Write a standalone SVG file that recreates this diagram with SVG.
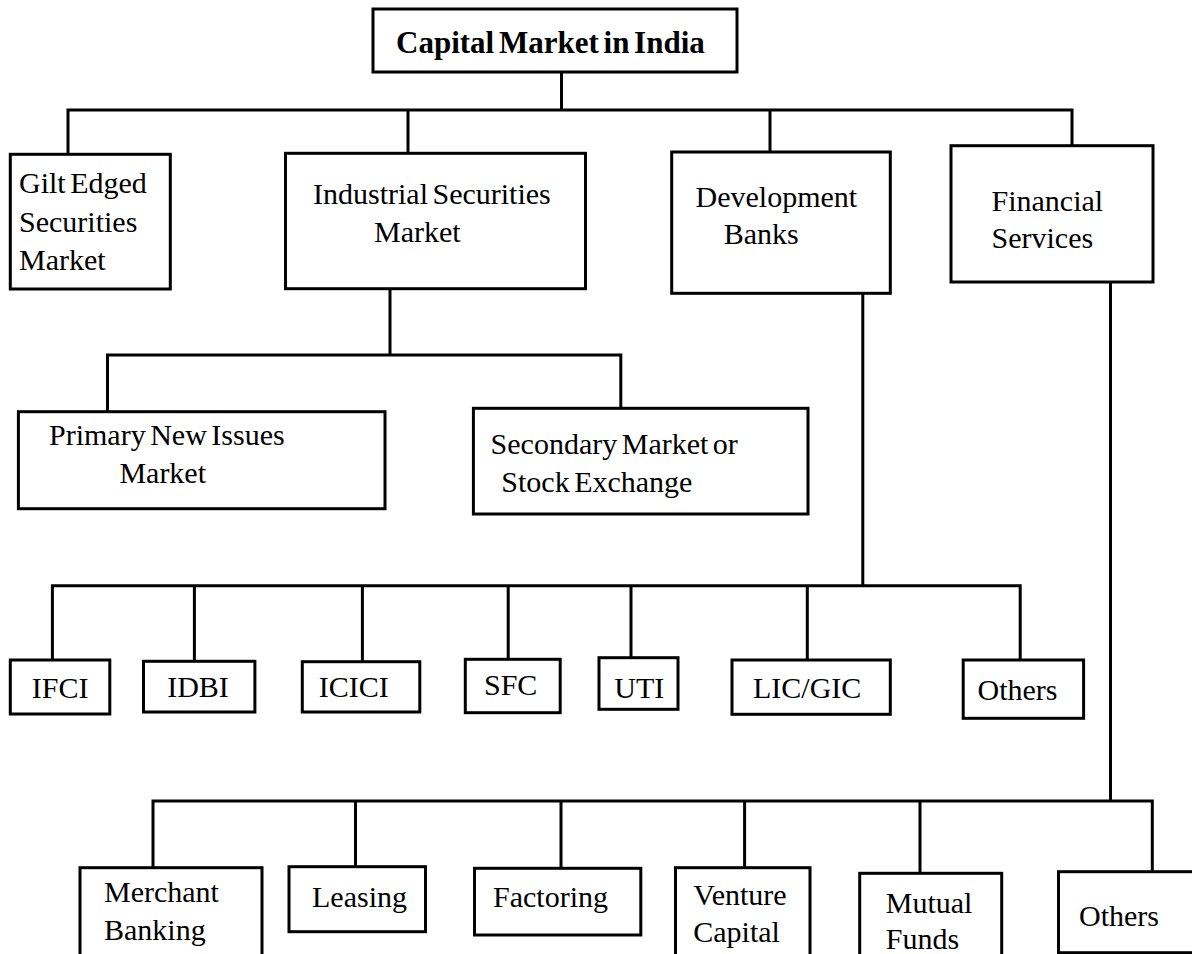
<svg xmlns="http://www.w3.org/2000/svg" width="1192" height="954" viewBox="0 0 1192 954">
<style>
.box{fill:#fff;stroke:#000;stroke-width:3}
.ln{stroke:#000;stroke-width:3;fill:none;stroke-linecap:square}
text{font-family:"Liberation Serif","Times New Roman",serif;font-size:30px;fill:#000;word-spacing:-3px}
.t{font-weight:bold;font-size:31px}
</style>
<rect width="1192" height="954" fill="#fff"/>
<g id="connectors">
<path class="ln" d="M561.5,72V110M68,110H1072M68,110V153M408,110V153M770,110V151M1072,110V145"/>
<path class="ln" d="M390,289V355M107.5,355H620.8M107.5,355V411M620.8,355V408"/>
<path class="ln" d="M862.8,293V585.7M52.4,585.7H1020.2M52.4,585.7V660M194.4,585.7V661M362.4,585.7V662M508.2,585.7V659M631,585.7V658M807.3,585.7V660M1020.2,585.7V660"/>
<path class="ln" d="M1110.5,282V801M153,801H1152.3M153,801V867M355.5,801V866M561,801V867M744.6,801V867M920,801V873M1152.3,801V871"/>
</g>
<g id="n-capital"><rect class="box" x="373" y="9" width="364" height="63"/><text class="t" x="396" y="53">Capital Market in India</text></g>
<g id="n-gilt"><rect class="box" x="10.3" y="154.3" width="160" height="134.7"/><text x="19" y="193">Gilt Edged</text><text x="19" y="232">Securities</text><text x="19" y="270">Market</text></g>
<g id="n-industrial"><rect class="box" x="285.5" y="153.3" width="300" height="135.4"/><text x="313" y="204">Industrial Securities</text><text x="374" y="242">Market</text></g>
<g id="n-development"><rect class="box" x="671.7" y="152" width="218.6" height="141.3"/><text x="695.5" y="207">Development</text><text x="723.8" y="244">Banks</text></g>
<g id="n-financial"><rect class="box" x="951" y="145.7" width="202" height="136.3"/><text x="991.5" y="211">Financial</text><text x="991.5" y="248">Services</text></g>
<g id="n-primary"><rect class="box" x="18.4" y="411.7" width="366.6" height="97"/><text x="49" y="445">Primary New Issues</text><text x="119.4" y="483">Market</text></g>
<g id="n-secondary"><rect class="box" x="473.4" y="408.3" width="334.6" height="105.7"/><text x="490.6" y="454">Secondary Market or</text><text x="501.3" y="492">Stock Exchange</text></g>
<g id="n-ifci"><rect class="box" x="10.3" y="660" width="99.5" height="54"/><text x="31.8" y="698">IFCI</text></g>
<g id="n-idbi"><rect class="box" x="143.5" y="661.3" width="111.4" height="50.7"/><text x="167.2" y="697">IDBI</text></g>
<g id="n-icici"><rect class="box" x="302.3" y="661.7" width="117.5" height="50.3"/><text x="318.8" y="697">ICICI</text></g>
<g id="n-sfc"><rect class="box" x="465.3" y="659.3" width="94.9" height="53.4"/><text x="484" y="695">SFC</text></g>
<g id="n-uti"><rect class="box" x="599" y="657.7" width="79" height="51.6"/><text x="614.3" y="698">UTI</text></g>
<g id="n-licgic"><rect class="box" x="732" y="660" width="158.3" height="54.3"/><text x="753" y="698">LIC/GIC</text></g>
<g id="n-others1"><rect class="box" x="963.2" y="660" width="120.4" height="58.3"/><text x="977.5" y="700">Others</text></g>
<g id="n-merchant"><rect class="box" x="80" y="867.7" width="182" height="110"/><text x="104" y="902">Merchant</text><text x="104" y="940">Banking</text></g>
<g id="n-leasing"><rect class="box" x="289" y="866.7" width="136.5" height="65"/><text x="312" y="907">Leasing</text></g>
<g id="n-factoring"><rect class="box" x="474.5" y="868.3" width="166.3" height="66.7"/><text x="493" y="907">Factoring</text></g>
<g id="n-venture"><rect class="box" x="675.5" y="867.7" width="134.5" height="110"/><text x="693.3" y="905">Venture</text><text x="693.3" y="942">Capital</text></g>
<g id="n-mutual"><rect class="box" x="859.7" y="873.3" width="142" height="110"/><text x="885.8" y="913">Mutual</text><text x="885.8" y="949">Funds</text></g>
<g id="n-others2"><rect class="box" x="1058.5" y="871.7" width="160" height="81"/><text x="1079" y="926">Others</text></g>
</svg>
